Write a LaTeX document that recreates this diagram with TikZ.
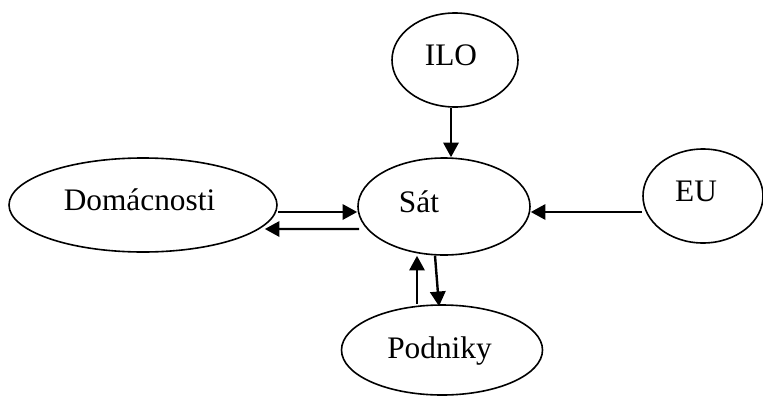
\documentclass[tikz,border=0pt]{standalone}
\usepackage{fontspec}
\setmainfont{Liberation Serif}
\usepackage{tikz}
\usetikzlibrary{arrows.meta,shapes.geometric}
\newcommand{\labelsize}{\fontsize{23.5}{28}\selectfont}
\tikzset{>={Triangle[length=11pt,width=11.5pt]}}
\tikzset{blob/.style={ellipse, draw, line width=1.2pt, inner sep=0pt},
	flow/.style={->, line width=1.8pt},
	lbl/.style={anchor=base, inner sep=0pt, font=\labelsize}}

\begin{document}
\begin{tikzpicture}[x=0.75pt,y=-0.75pt]
	\useasboundingbox (0,0) rectangle (763,396);
	
		\node[blob, minimum width=201pt, minimum height=70.5pt] (dom) at (143,205) {};
		\node[blob, minimum width=129pt, minimum height=72.75pt] (sat) at (444,206.5) {};
		\node[blob, minimum width=94.5pt, minimum height=70.5pt] (ilo) at (455,60) {};
		\node[blob, minimum width=90pt, minimum height=70.5pt] (eu) at (703,196) {};
		\node[blob, minimum width=150.75pt, minimum height=67.5pt] (pod) at (442,350) {};
		
		\node[lbl] (domtext) at (139.5,210) {Domácnosti};
		\node[lbl] (sattext) at (419,212) {Sát};
		\node[lbl] (ilotext) at (451,65) {ILO};
		\node[lbl] (eutext) at (696,201.5) {EU};
		\node[lbl] (podtext) at (439.5,358) {Podniky};
		
		\draw[flow] ([yshift=-5.25pt]dom.east) -- ([yshift=-5.25pt]dom.east -| sat.west);
		\draw[flow] ([xshift=1.5pt,yshift=-16.9pt]sat.west) -- ([xshift=-9.75pt,yshift=-18pt]dom.east);
		\draw[flow] ([xshift=-3pt]ilo.south) -- ([xshift=-3pt]ilo.south |- sat.north);
		\draw[flow] ([yshift=-12pt]eu.west) -- ([yshift=-12pt]eu.west -| sat.east);
		\draw[flow] ([xshift=-18.75pt]pod.north) -- ([xshift=-18.75pt]pod.north |- sat.south);
		\draw[flow] ([xshift=-6.75pt]sat.south) -- ([xshift=-2.25pt,yshift=-1.5pt]pod.north);
		
\end{tikzpicture}
\end{document}
